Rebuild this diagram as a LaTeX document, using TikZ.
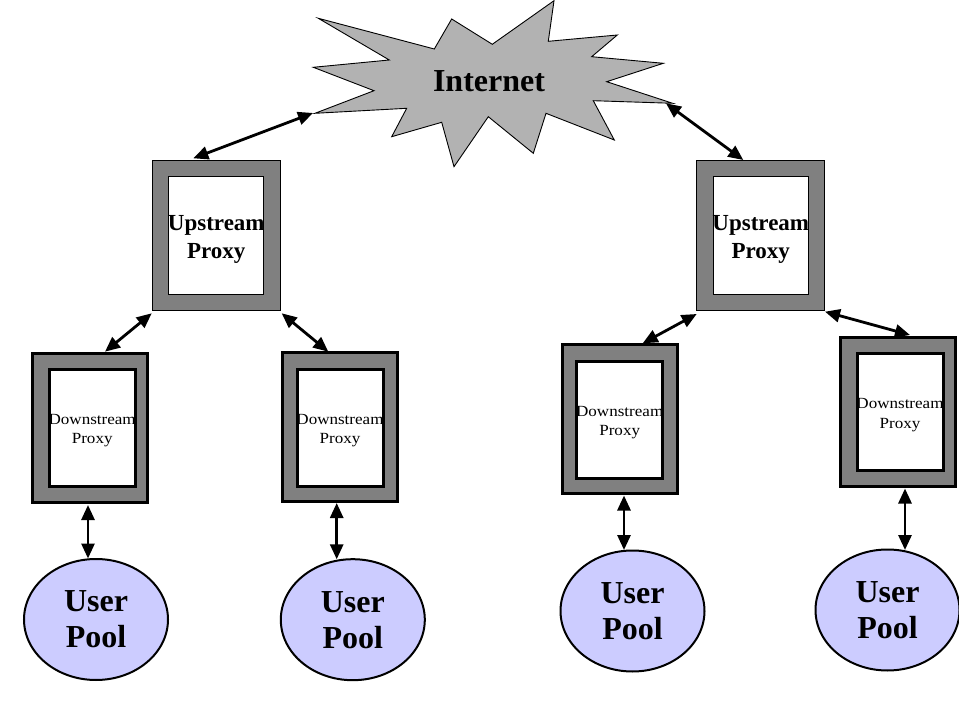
\documentclass[tikz,border=0pt]{standalone}
\usepackage{fontspec}
\setmainfont{Liberation Serif}
\newfontfamily\dsfont[FakeStretch=1.1]{Liberation Serif}
\usetikzlibrary{arrows.meta,calc,shapes.geometric}
\definecolor{burstgray}{RGB}{178,178,178}
\definecolor{framegray}{RGB}{128,128,128}
\definecolor{poolblue}{RGB}{204,204,255}
\begin{document}
\begin{tikzpicture}[x=1pt,y=-1pt,
  link/.style={line width=2.8pt,{Triangle[length=15pt,width=13pt]}-{Triangle[length=15pt,width=13pt]}},
  upouter/.style={rectangle,draw=black,line width=0.9pt,fill=framegray,minimum width=128pt,minimum height=150pt,inner sep=0pt},
  upinner/.style={rectangle,draw=black,line width=0.9pt,fill=white,minimum width=95pt,minimum height=118pt,inner sep=0pt},
  uptext/.style={align=center,inner sep=0pt,font=\fontsize{23}{28}\selectfont\bfseries},
  dnouter/.style={rectangle,draw=black,line width=3pt,fill=framegray,minimum width=115pt,minimum height=149pt,inner sep=0pt},
  dninner/.style={rectangle,draw=black,line width=3pt,fill=white,minimum width=86pt,minimum height=117pt,inner sep=0pt},
  dntext/.style={align=center,inner sep=0pt,font=\dsfont\fontsize{15.5}{19.4}\selectfont},
  pool/.style={ellipse,draw=black,line width=2pt,fill=poolblue,minimum width=144pt,minimum height=121pt,inner sep=0pt,align=center,font=\fontsize{32}{36}\selectfont\bfseries}
]
\useasboundingbox (0,0) rectangle (959,719);

% Internet starburst
\draw[fill=burstgray,draw=black,line width=0.9pt]
  (313.3,67.3) -- (389.3,60) -- (318.3,18.3) -- (434.3,49) -- (451.7,19) --
  (492.3,44.3) -- (554,0.7) -- (548.3,41.3) -- (617.3,35) -- (591.7,56.7) --
  (663.3,63.3) -- (606.7,81.7) -- (672.7,103.3) -- (593.3,100.7) -- (614.3,140) --
  (546,113.3) -- (533.3,153.3) -- (488.3,116.7) -- (454,166.7) -- (441.7,122.3) --
  (391.7,136.7) -- (406.7,108.3) -- (315,113.3) -- (374,90.7) -- cycle;
\node[inner sep=0pt,font=\fontsize{32}{36}\selectfont\bfseries] (inet) at (489,81) {Internet};
\coordinate (inetL) at (313,113);
\coordinate (inetR) at (666,103.3);

% Upstream proxies
\node[upouter] (up1) at (216.5,235.5) {};
\node[upinner] (up1in) at (216.3,235.5) {};
\node[uptext] (up1t) at (216.3,239) {Upstream\\Proxy};
\node[upouter] (up2) at (760.8,235.5) {};
\node[upinner] (up2in) at (760.8,235.2) {};
\node[uptext] (up2t) at (760.8,239) {Upstream\\Proxy};

% Downstream proxies
\node[dnouter] (dn1) at (90,427.8) {};
\node[dninner] (dn1in) at (92.2,427.7) {};
\node[dntext] (dn1t) at (92.2,430.5) {Downstream\\Proxy};
\node[dnouter] (dn2) at (340.2,427.2) {};
\node[dninner] (dn2in) at (340,427.7) {};
\node[dntext] (dn2t) at (340,430.5) {Downstream\\Proxy};
\node[dnouter] (dn3) at (619.7,419.2) {};
\node[dninner] (dn3in) at (619.7,420) {};
\node[dntext] (dn3t) at (619.7,422.8) {Downstream\\Proxy};
\node[dnouter] (dn4) at (898.3,411.7) {};
\node[dninner] (dn4in) at (900,412.2) {};
\node[dntext] (dn4t) at (900,415) {Downstream\\Proxy};

% User pools
\node[pool] (p1) at (96,619.5) {User\\Pool};
\node[pool] (p2) at (352.8,619.7) {User\\Pool};
\node[pool] (p3) at (632.5,611) {User\\Pool};
\node[pool] (p4) at (887.5,610) {User\\Pool};

% connector end points
\coordinate (up1top) at (193.3,158.3);
\coordinate (up2top) at (743.3,160);
\coordinate (up1bl) at (151.7,313.3);
\coordinate (up1br) at (281.7,313.3);
\coordinate (up2bl) at (696.7,314);
\coordinate (up2br) at (825,311.7);
\coordinate (dn1top) at (105,351.7);
\coordinate (dn2top) at (328.3,351.7);
\coordinate (dn3top) at (642.7,343.3);
\coordinate (dn4top) at (910,335);
\coordinate (dn1bot) at (88,505);
\coordinate (dn2bot) at (336.7,503);
\coordinate (dn3bot) at (624,495.5);
\coordinate (dn4bot) at (905,488.5);
\coordinate (p1top) at (88,558.5);
\coordinate (p2top) at (336.7,559.3);
\coordinate (p3top) at (624,550);
\coordinate (p4top) at (905,550);

% connectors
\draw[link] (up1top) -- (inetL);
\draw[link] (inetR) -- (up2top);
\draw[link] (up1bl) -- (dn1top);
\draw[link] (up1br) -- (dn2top);
\draw[link] (up2bl) -- (dn3top);
\draw[link] (up2br) -- (dn4top);
\draw[link] (dn1bot) -- (p1top);
\draw[link] (dn2bot) -- (p2top);
\draw[link] (dn3bot) -- (p3top);
\draw[link] (dn4bot) -- (p4top);
\end{tikzpicture}
\end{document}
